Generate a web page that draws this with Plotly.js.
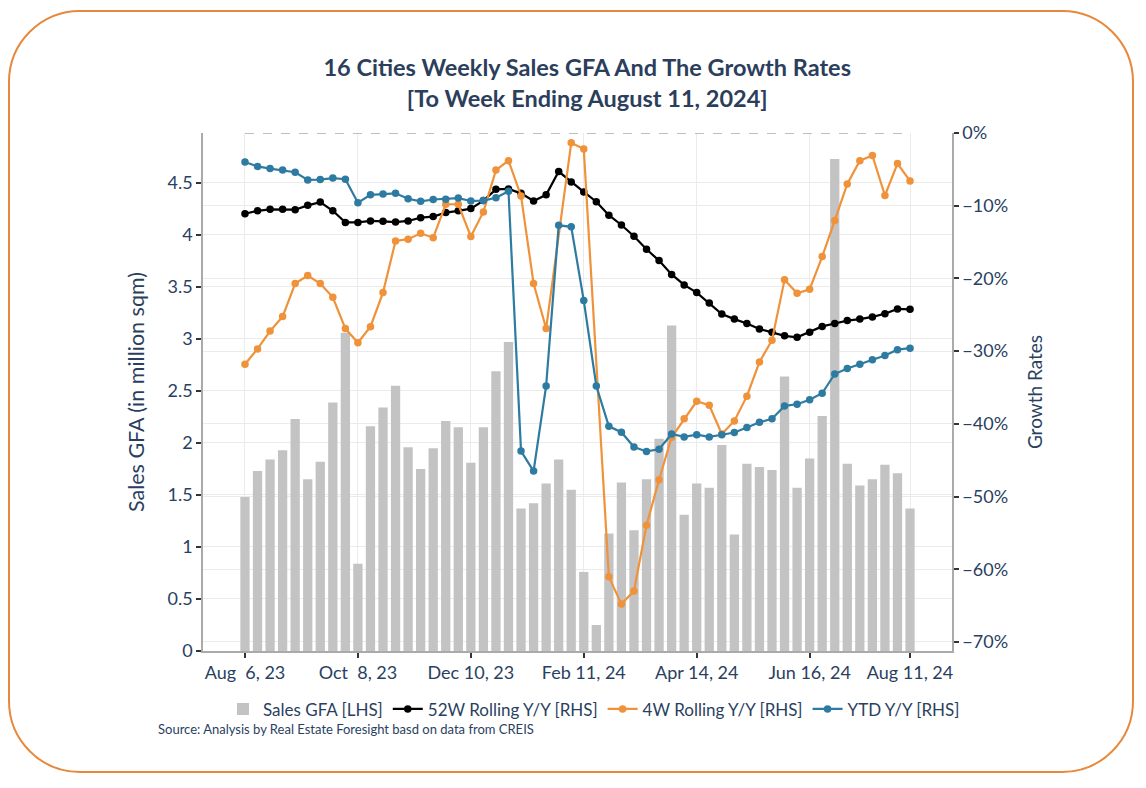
<!DOCTYPE html>
<html>
<head>
<meta charset="utf-8">
<script src="https://cdn.plot.ly/plotly-3.0.1.min.js"></script>
<style>
  html, body { margin: 0; padding: 0; background: #ffffff; }
  #wrap { position: relative; width: 1146px; height: 788px; }
  #frame { position: absolute; left: 8px; top: 10px; width: 1126px; height: 763px;
           border: 2px solid #E8883A; border-radius: 72px; box-sizing: border-box; }
  #chart { position: absolute; left: 0; top: 0; width: 1146px; height: 788px; }
</style>
</head>
<body>
<div id="wrap">
  <div id="frame"></div>
  <div id="chart"></div>
</div>
<script>
// Weekly dates (week ending)
const weeks = [
  '2023-08-06','2023-08-13','2023-08-20','2023-08-27','2023-09-03','2023-09-10','2023-09-17','2023-09-24',
  '2023-10-01','2023-10-08','2023-10-15','2023-10-22','2023-10-29','2023-11-05','2023-11-12','2023-11-19',
  '2023-11-26','2023-12-03','2023-12-10','2023-12-17','2023-12-24','2023-12-31','2024-01-07','2024-01-14',
  '2024-01-21','2024-01-28','2024-02-04','2024-02-11','2024-02-18','2024-02-25','2024-03-03','2024-03-10',
  '2024-03-17','2024-03-24','2024-03-31','2024-04-07','2024-04-14','2024-04-21','2024-04-28','2024-05-05',
  '2024-05-12','2024-05-19','2024-05-26','2024-06-02','2024-06-09','2024-06-16','2024-06-23','2024-06-30',
  '2024-07-07','2024-07-14','2024-07-21','2024-07-28','2024-08-04','2024-08-11'
];

// Sales GFA (million sqm) [LHS]
const salesGFA = [
  1.48, 1.73, 1.84, 1.93, 2.23, 1.65, 1.82, 2.39, 3.06, 0.84,
  2.16, 2.34, 2.55, 1.96, 1.75, 1.95, 2.21, 2.15, 1.81, 2.15,
  2.69, 2.97, 1.37, 1.42, 1.61, 1.84, 1.55, 0.76, 0.25, 1.13,
  1.62, 1.16, 1.65, 2.04, 3.13, 1.31, 1.61, 1.57, 1.98, 1.12,
  1.80, 1.77, 1.74, 2.64, 1.57, 1.85, 2.26, 4.73, 1.80, 1.59,
  1.65, 1.79, 1.71, 1.37
];

// 52W Rolling Y/Y (%) [RHS]
const rolling52W = [
  -11.1, -10.7, -10.5, -10.5, -10.55, -9.95, -9.5, -10.7, -12.3, -12.3,
  -12.1, -12.15, -12.25, -12.1, -11.65, -11.5, -10.95, -10.7, -10.4, -9.3,
  -7.75, -7.7, -8.3, -9.35, -8.5, -5.3, -6.75, -8.1, -9.45, -11.3,
  -12.65, -14.2, -16.0, -17.55, -19.45, -20.9, -21.95, -23.4, -24.9, -25.6,
  -26.2, -26.95, -27.4, -27.9, -28.1, -27.4, -26.6, -26.2, -25.8, -25.6,
  -25.3, -24.85, -24.2, -24.25
];

// 4W Rolling Y/Y (%) [RHS]  (null = no value that week)
const rolling4W = [
  -31.8, -29.7, -27.25, -25.25, -20.7, -19.6, -20.7, -22.6, -26.9, -28.85,
  -26.65, -21.95, -14.85, -14.6, -13.8, -14.4, -9.8, -9.8, -14.25, -10.85,
  -5.1, -3.8, -8.65, -20.7, -26.9, null, -1.35, -2.2, null, -61.05,
  -64.8, -63.0, -53.95, -47.7, -41.85, -39.3, -36.9, -37.45, -41.4, -39.6,
  -36.2, -31.5, -28.5, -20.2, -22.05, -21.5, -17.0, -12.05, -7.0, -3.8,
  -3.1, -8.6, -4.2, -6.6
];

// YTD Y/Y (%) [RHS]
const ytdYoY = [
  -4.0, -4.6, -4.9, -5.1, -5.4, -6.45, -6.4, -6.2, -6.35, -9.6,
  -8.5, -8.4, -8.3, -9.05, -9.4, -9.15, -9.1, -8.95, -9.35, -9.3,
  -8.9, -8.0, -43.75, -46.5, -34.8, -12.7, -12.9, -23.05, -34.8, -40.35,
  -41.15, -43.2, -43.8, -43.5, -41.4, -41.8, -41.5, -41.8, -41.5, -41.2,
  -40.5, -39.8, -39.3, -37.55, -37.3, -36.7, -35.8, -33.15, -32.4, -31.8,
  -31.2, -30.6, -29.8, -29.6
];

// X tick positions and labels
const xTickVals = ['2023-08-06','2023-10-08','2023-12-10','2024-02-11','2024-04-14','2024-06-16','2024-08-11'];
const xTickText = ['Aug\u00a0\u00a06, 23','Oct\u00a0\u00a08, 23','Dec 10, 23','Feb 11, 24','Apr 14, 24','Jun 16, 24','Aug 11, 24'];

// Legend names
const seriesNames = ['Sales GFA [LHS]','52W Rolling Y/Y [RHS]','4W Rolling Y/Y [RHS]','YTD Y/Y [RHS]'];

const FONT = 'Lato, "Open Sans", sans-serif';
const TXT = '#2A3F5F';

const traces = [
  { type: 'bar', x: weeks, y: salesGFA, name: seriesNames[0], yaxis: 'y',
    marker: { color: '#C3C3C3' }, hoverinfo: 'x+y' },
  { type: 'scatter', mode: 'lines+markers', x: weeks, y: rolling52W, name: seriesNames[1], yaxis: 'y2',
    line: { color: '#000000', width: 2.2 }, marker: { color: '#000000', size: 7.5 } },
  { type: 'scatter', mode: 'lines+markers', x: weeks, y: rolling4W, name: seriesNames[2], yaxis: 'y2',
    connectgaps: true,
    line: { color: '#F0923A', width: 2.2 }, marker: { color: '#F0923A', size: 7.5 } },
  { type: 'scatter', mode: 'lines+markers', x: weeks, y: ytdYoY, name: seriesNames[3], yaxis: 'y2',
    line: { color: '#2E7BA1', width: 2.2 }, marker: { color: '#2E7BA1', size: 7.5 } }
];

const layout = {
  width: 1146, height: 788,
  paper_bgcolor: 'rgba(0,0,0,0)', plot_bgcolor: 'rgba(0,0,0,0)',
  margin: { l: 203, r: 194, t: 133, b: 137, pad: 0 },
  font: { family: FONT, color: TXT, size: 16 },
  title: {
    text: '<b>16 Cities Weekly Sales GFA And The Growth Rates<br>[To Week Ending August 11, 2024]</b>',
    font: { family: FONT, size: 23.5, color: '#2B3E5C' },
    x: 0.513, xanchor: 'center', xref: 'paper',
    y: 0.903, yanchor: 'middle', yref: 'container'
  },
  bargap: 0.26,
  showlegend: true,
  legend: {
    orientation: 'h', x: 0.522, xanchor: 'center', y: -0.078, yanchor: 'top',
    font: { family: FONT, size: 17, color: TXT }, itemwidth: 30, traceorder: 'normal',
    bgcolor: 'rgba(0,0,0,0)'
  },
  xaxis: {
    type: 'date',
    range: ['2023-07-13 14:00', '2024-09-03 10:00'],
    tickvals: xTickVals, ticktext: xTickText,
    ticks: 'outside', ticklen: 5, tickcolor: '#333', tickwidth: 1.5,
    showline: true, linecolor: '#AAAAAA', linewidth: 1.5,
    showgrid: true, gridcolor: '#EBEBEB', gridwidth: 1,
    zeroline: false,
    tickfont: { family: FONT, size: 18, color: TXT }
  },
  yaxis: {
    range: [0, 4.98], dtick: 0.5, tick0: 0,
    ticks: 'outside', ticklen: 5, tickcolor: '#333', tickwidth: 1.5,
    showline: true, linecolor: '#AAAAAA', linewidth: 1.5,
    showgrid: true, gridcolor: '#EBEBEB', gridwidth: 1, zeroline: false,
    tickfont: { family: FONT, size: 18, color: TXT },
    title: { text: 'Sales GFA (in million sqm)', font: { family: FONT, size: 21.5, color: TXT }, standoff: 17 }
  },
  yaxis2: {
    overlaying: 'y', side: 'right',
    range: [-71.25, 0], dtick: 10, tick0: 0, ticksuffix: '%',
    ticks: 'outside', ticklen: 5, tickcolor: '#333', tickwidth: 1.5,
    showline: true, linecolor: '#AAAAAA', linewidth: 1.5,
    showgrid: true, gridcolor: '#EBEBEB', gridwidth: 1, zeroline: false,
    tickfont: { family: FONT, size: 18, color: TXT },
    title: { text: 'Growth Rates', font: { family: FONT, size: 19, color: TXT }, standoff: 22 }
  },
  shapes: [
    { type: 'line', xref: 'x', yref: 'y2', x0: weeks[0], x1: weeks[weeks.length - 1], y0: 0, y1: 0,
      line: { color: '#AAAAAA', width: 1.5, dash: 'dash' } }
  ],
  annotations: [
    { text: 'Source: Analysis by Real Estate Foresight basd on data from CREIS',
      xref: 'paper', yref: 'paper', x: -0.063, y: -0.151, xanchor: 'left', yanchor: 'middle',
      showarrow: false, font: { family: FONT, size: 13, color: TXT } }
  ]
};

Plotly.newPlot('chart', traces, layout, { displayModeBar: false, responsive: false });
</script>
</body>
</html>
